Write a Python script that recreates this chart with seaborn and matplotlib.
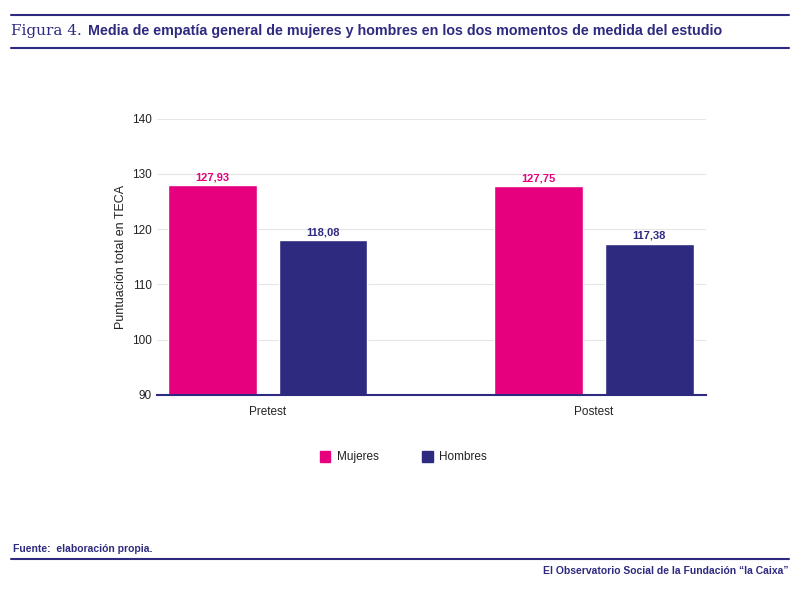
import matplotlib
matplotlib.use("Agg")
import matplotlib.pyplot as plt
import seaborn as sns
import pandas as pd

momentos = ["Pretest", "Postest"]
grupos = ["Mujeres", "Hombres"]
mujeres = [127.93, 127.75]
hombres = [118.08, 117.38]

PINK = "#E6007E"
NAVY = "#2E2A80"

df = pd.DataFrame({
    "momento": momentos * 2,
    "grupo": [grupos[0]] * 2 + [grupos[1]] * 2,
    "valor": mujeres + hombres,
})

sns.set_theme(style="white")
plt.rcParams["font.family"] = ["Liberation Sans", "DejaVu Sans"]

fig = plt.figure(figsize=(8, 5.91), dpi=100)
ax = fig.add_axes([0.196, 0.332, 0.6865, 0.467])

sns.barplot(data=df, x="momento", y="valor", hue="grupo", order=momentos,
            hue_order=grupos, palette=[PINK, NAVY], width=0.68, gap=0.2,
            saturation=1, ax=ax, legend=False)

for cont, col in zip(ax.containers, [PINK, NAVY]):
    ax.bar_label(cont, labels=[f"{v:.2f}".replace(".", ",") for v in cont.datavalues],
                 padding=2, fontsize=8, fontweight="bold", color=col)

ax.set_ylim(90, 140)
ax.set_xlim(-0.34, 1.344)
ax.set_yticks([90, 100, 110, 120, 130, 140])
ax.yaxis.grid(True, color="#e6e6e6", lw=0.8)
ax.set_axisbelow(True)
for s in ["top", "right", "left"]:
    ax.spines[s].set_visible(False)
ax.spines["bottom"].set_color(NAVY)
ax.spines["bottom"].set_linewidth(1.5)
ax.tick_params(axis="both", labelsize=8.5, colors="#222222", length=0)
ax.tick_params(axis="x", pad=8)
ax.set_xlabel("")
ax.set_ylabel("Puntuación total en TECA", fontsize=9, color="#222222")

# leyenda
for x, lab, col in [(0.40, "Mujeres", PINK), (0.528, "Hombres", NAVY)]:
    fig.patches.append(plt.Rectangle((x, 0.219), 0.013, 0.018, color=col,
                                     transform=fig.transFigure, figure=fig))
    fig.text(x + 0.021, 0.227, lab, fontsize=8.5, va="center", color="#222222")

# cabecera
fig.add_artist(plt.Line2D([0.014, 0.986], [0.975, 0.975], color=NAVY, lw=1.5))
fig.add_artist(plt.Line2D([0.014, 0.986], [0.919, 0.919], color=NAVY, lw=1.5))
fig.text(0.014, 0.947, "Figura 4.", fontsize=11, color=NAVY, family="DejaVu Serif",
         va="center")
fig.text(0.11, 0.947,
         "Media de empatía general de mujeres y hombres en los dos momentos de medida del estudio",
         fontsize=10.3, color=NAVY, fontweight="bold", va="center")

# pie
fig.text(0.016, 0.071, "Fuente:  elaboración propia.", fontsize=7.5, color=NAVY,
         fontweight="bold", va="center")
fig.add_artist(plt.Line2D([0.014, 0.986], [0.054, 0.054], color=NAVY, lw=1.5))
fig.text(0.986, 0.034, "El Observatorio Social de la Fundación “la Caixa”",
         fontsize=7.5, color=NAVY, fontweight="bold", va="center", ha="right")

fig.savefig("out.png", dpi=100)
